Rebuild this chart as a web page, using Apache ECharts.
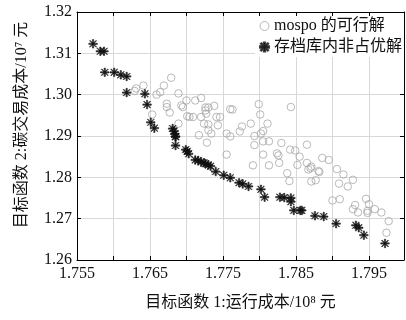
<!DOCTYPE html>
<html>
<head>
<meta charset="utf-8">
<script src="https://cdn.jsdelivr.net/npm/echarts@6/dist/echarts.min.js"></script>
<style>
  html, body { margin: 0; padding: 0; background: #fff; }
  #chart { width: 406px; height: 320px; }
</style>
</head>
<body>
<div id="chart"></div>
<script>
  // feasible solutions from mospo: [cost1 (10^8), cost2 (10^7)]
  const feasibleX = [
    1.7629, 1.7631, 1.7641, 1.7659, 1.7664, 1.7669, 1.7679, 1.7689, 1.7653, 1.7673,
    1.7673, 1.7677, 1.7689, 1.7693, 1.7695, 1.7700, 1.7701, 1.7704, 1.7709, 1.7712,
    1.7720, 1.7720, 1.7726, 1.7726, 1.7730, 1.7727, 1.7717, 1.7724, 1.7730, 1.7730,
    1.7734, 1.7738, 1.7741, 1.7746, 1.7743, 1.7755, 1.7760, 1.7763, 1.7760, 1.7773,
    1.7776, 1.7788, 1.7793, 1.7799, 1.7801, 1.7802, 1.7805, 1.7811, 1.7843, 1.7728,
    1.7755, 1.7791, 1.7793, 1.7805, 1.7805, 1.7813, 1.7813, 1.7824, 1.7826, 1.7827,
    1.7830, 1.7838, 1.7841, 1.7842, 1.7849, 1.7852, 1.7855, 1.7865, 1.7865, 1.7867,
    1.7870, 1.7871, 1.7871, 1.7877, 1.7881, 1.7882, 1.7886, 1.7895, 1.7900, 1.7906,
    1.7909, 1.7910, 1.7915, 1.7921, 1.7928, 1.7928, 1.7931, 1.7935, 1.7946, 1.7948,
    1.7948, 1.7950, 1.7958, 1.7967, 1.7977, 1.7974
  ];
  const feasibleY = [
    1.3009, 1.3015, 1.3022, 1.3000, 1.3006, 1.3022, 1.3041, 1.3003, 1.2952, 1.2978,
    1.2970, 1.2957, 1.2930, 1.2974, 1.2970, 1.2986, 1.2948, 1.2946, 1.2946, 1.2986,
    1.2992, 1.2946, 1.2969, 1.2962, 1.2969, 1.2954, 1.2902, 1.2930, 1.2928, 1.2914,
    1.2906, 1.2973, 1.2946, 1.2946, 1.2926, 1.2906, 1.2965, 1.2964, 1.2899, 1.2911,
    1.2923, 1.2930, 1.2900, 1.2977, 1.2952, 1.2906, 1.2912, 1.2930, 1.2970, 1.2884,
    1.2855, 1.2829, 1.2878, 1.2855, 1.2887, 1.2887, 1.2829, 1.2858, 1.2853, 1.2835,
    1.2883, 1.2810, 1.2791, 1.2867, 1.2865, 1.2830, 1.2850, 1.2879, 1.2835, 1.2819,
    1.2822, 1.2826, 1.2790, 1.2793, 1.2815, 1.2813, 1.2847, 1.2842, 1.2744, 1.2820,
    1.2785, 1.2747, 1.2807, 1.2778, 1.2794, 1.2723, 1.2733, 1.2715, 1.2748, 1.2714,
    1.2719, 1.2735, 1.2723, 1.2715, 1.2694, 1.2666
  ];

  // non-dominated solutions in the archive
  const archiveX = [
    1.7572, 1.7582, 1.7587, 1.7588, 1.7601, 1.7610, 1.7618, 1.7618, 1.7643, 1.7646,
    1.7651, 1.7656, 1.7681, 1.7683, 1.7685, 1.7684, 1.7685, 1.7685, 1.7699, 1.7701,
    1.7703, 1.7712, 1.7716, 1.7720, 1.7724, 1.7726, 1.7730, 1.7733, 1.7740, 1.7751,
    1.7760, 1.7772, 1.7777, 1.7785, 1.7802, 1.7807, 1.7828, 1.7834, 1.7843, 1.7843,
    1.7847, 1.7856, 1.7858, 1.7876, 1.7888, 1.7905, 1.7932, 1.7936, 1.7943, 1.7972
  ];
  const archiveY = [
    1.3123, 1.3105, 1.3105, 1.3054, 1.3054, 1.3048, 1.3044, 1.3005, 1.3002, 1.2976,
    1.2933, 1.2919, 1.2918, 1.2912, 1.2899, 1.2905, 1.2898, 1.2877, 1.2867, 1.2863,
    1.2857, 1.2842, 1.2841, 1.2837, 1.2835, 1.2833, 1.2830, 1.2827, 1.2814, 1.2805,
    1.2799, 1.2787, 1.2784, 1.2778, 1.2771, 1.2752, 1.2752, 1.2751, 1.2750, 1.2741,
    1.2720, 1.2720, 1.2720, 1.2707, 1.2705, 1.2688, 1.2684, 1.2678, 1.2660, 1.2640
  ];

  const xMin = 1.755, xMax = 1.7998, xStep = 0.005;
  const yMin = 1.26, yMax = 1.32, yStep = 0.01;

  const seriesNames = ['mospo 的可行解', '存档库内非占优解'];
  const xTitle = '目标函数 1:运行成本/10⁸ 元';
  const yTitle = '目标函数 2:碳交易成本/10⁷ 元';

  const font = '"Liberation Serif", "Noto Sans CJK SC", serif';
  const star = 'path://M0,8.5L20,8.5L20,11.5L0,11.5Z M8.5,0L11.5,0L11.5,20L8.5,20Z ' +
    'M2.9,1.8L18.2,17.1L17.1,18.2L1.8,2.9Z M17.1,1.8L18.2,2.9L2.9,18.2L1.8,17.1Z';

  const pairs = (xs, ys) => xs.map((x, i) => [x, ys[i]]);

  const chart = echarts.init(document.getElementById('chart'), null, {renderer: 'canvas'});

  const tickStyle = {show: true, inside: true, length: 4, lineStyle: {color: '#000'}};

  const option = {
    animation: false,
    backgroundColor: '#fff',
    textStyle: {fontFamily: font},
    grid: {left: 77, right: 2, top: 12, bottom: 60},
    legend: {
      orient: 'vertical',
      right: 2,
      top: 16,
      itemGap: 5,
      itemWidth: 9,
      itemHeight: 9,
      backgroundColor: '#fff',
      padding: [2, 2, 2, 4],
      textStyle: {fontFamily: font, fontSize: 16, color: '#111'},
      data: [
        {name: seriesNames[0], icon: 'circle', itemStyle: {color: '#fff', borderColor: '#a8a8a8', borderWidth: 1}},
        {name: seriesNames[1], icon: star}
      ]
    },
    xAxis: [{
      type: 'value',
      min: xMin,
      max: xMax,
      interval: xStep,
      name: xTitle,
      nameLocation: 'middle',
      nameGap: 35,
      nameTextStyle: {fontFamily: font, fontSize: 16, color: '#111'},
      axisLine: {lineStyle: {color: '#000'}},
      axisTick: tickStyle,
      splitLine: {lineStyle: {color: '#d8d8d8'}},
      axisLabel: {
        fontFamily: font, fontSize: 16, color: '#111', margin: 6,
        showMaxLabel: false,
        formatter: v => {
          const k = Math.round((v - xMin) / xStep);
          if (Math.abs(v - (xMin + k * xStep)) > 1e-6 || k % 2) return '';
          return v.toFixed(3);
        }
      }
    }, {
      type: 'value',
      position: 'top',
      min: xMin,
      max: xMax,
      interval: xStep,
      axisLine: {lineStyle: {color: '#000'}},
      axisTick: tickStyle,
      axisLabel: {show: false},
      splitLine: {show: false}
    }],
    yAxis: [{
      type: 'value',
      min: yMin,
      max: yMax,
      interval: yStep,
      name: yTitle,
      nameLocation: 'middle',
      nameGap: 47,
      nameTextStyle: {fontFamily: font, fontSize: 16, color: '#111', padding: [0, 0, 0, 22]},
      axisLine: {lineStyle: {color: '#000'}},
      axisTick: tickStyle,
      splitLine: {lineStyle: {color: '#d8d8d8'}},
      axisLabel: {fontFamily: font, fontSize: 16, color: '#111', margin: 5, formatter: v => v.toFixed(2)}
    }, {
      type: 'value',
      position: 'right',
      min: yMin,
      max: yMax,
      interval: yStep,
      axisLine: {lineStyle: {color: '#000'}},
      axisTick: tickStyle,
      axisLabel: {show: false},
      splitLine: {show: false}
    }],
    series: [{
      name: seriesNames[0],
      type: 'scatter',
      symbol: 'circle',
      symbolSize: 7.5,
      itemStyle: {color: 'rgba(255,255,255,0)', borderColor: '#a8a8a8', borderWidth: 1},
      data: pairs(feasibleX, feasibleY),
      z: 2
    }, {
      name: seriesNames[1],
      type: 'scatter',
      symbol: star,
      symbolSize: 8.5,
      itemStyle: {color: '#111', borderColor: '#111', borderWidth: 0.7},
      data: pairs(archiveX, archiveY),
      z: 3
    }]
  };

  chart.setOption(option);
</script>
</body>
</html>
